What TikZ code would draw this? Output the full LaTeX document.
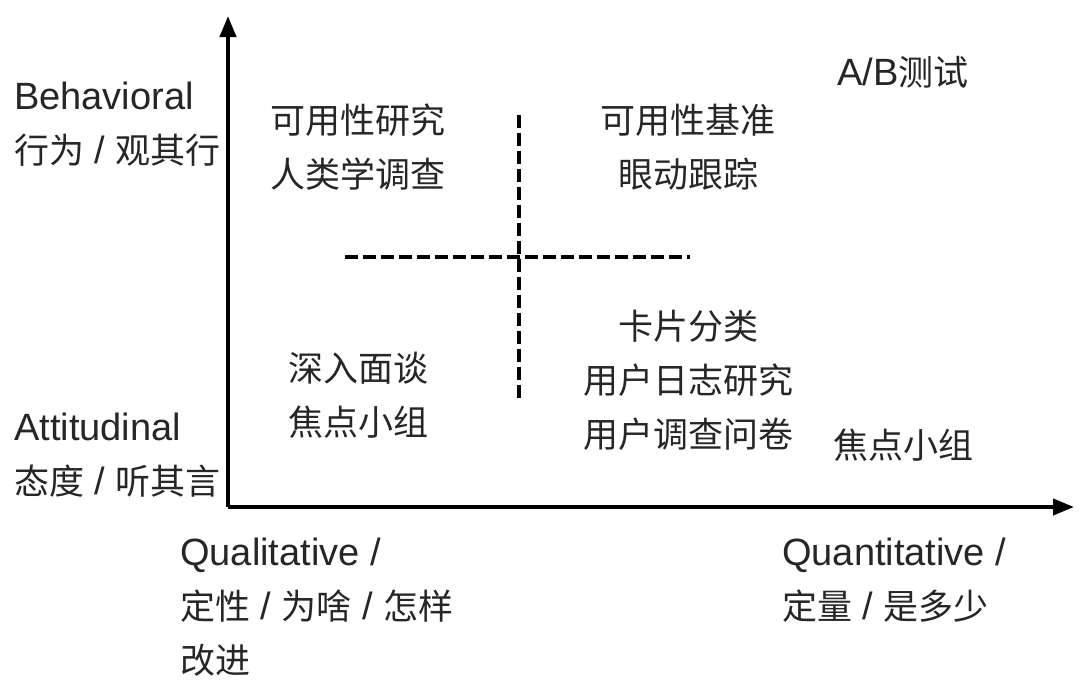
\documentclass[tikz,border=0pt]{standalone}
\usepackage{fontspec}
\setmainfont{Liberation Sans}
\newfontfamily\cjk{Noto Sans CJK SC}
\usetikzlibrary{arrows.meta}
\newcommand{\zh}[1]{{\cjk\fontsize{35}{54}\selectfont #1}}
\tikzstyle{label} = [inner sep=0pt, font=\fontsize{38}{54}\selectfont, text=black!85]
\tikzstyle{leftlabel} = [label, anchor=west, align=left]
\tikzstyle{midlabel} = [label, align=center]
\tikzstyle{axis} = [line width=4pt,-{Triangle[length=21pt,width=16pt]}]
\tikzstyle{split} = [line width=3.5pt, dash pattern=on 13pt off 5pt]

\begin{document}
\begin{tikzpicture}[x=1pt, y=-1pt]
    \useasboundingbox (0,0) rectangle (1090,691);
    \coordinate (origin) at (228,507);
    \coordinate (ytip) at (228,16);
    \coordinate (xtip) at (1074,507);
    \coordinate (vtop) at (519,115);
    \coordinate (vbot) at (519,398);
    \coordinate (hleft) at (345,257);
    \coordinate (hright) at (690,257);

    \node (behav) [leftlabel] at (14,124) {Behavioral \\ \zh{行为} / \zh{观其行}};
    \node (attit) [leftlabel] at (14,455) {Attitudinal \\ \zh{态度} / \zh{听其言}};
    \node (qual) [leftlabel] at (180,607) {Qualitative / \\ \zh{定性} / \zh{为啥} / \zh{怎样} \\ \zh{改进}};
    \node (quant) [leftlabel] at (782,580) {Quantitative / \\ \zh{定量} / \zh{是多少}};

    \node (usab) [midlabel] at (358,147) {\zh{可用性研究} \\ \zh{人类学调查}};
    \node (bench) [midlabel] at (688,147) {\zh{可用性基准} \\ \zh{眼动跟踪}};
    \node (ab) [midlabel] at (903,72) {A/B\zh{测试}};
    \node (card) [midlabel] at (688,380) {\zh{卡片分类} \\ \zh{用户日志研究} \\ \zh{用户调查问卷}};
    \node (deep) [midlabel] at (358,395) {\zh{深入面谈} \\ \zh{焦点小组}};
    \node (focus) [midlabel] at (903,445) {\zh{焦点小组}};

    \draw [axis] (origin) -- (ytip);
    \draw [axis] (origin) -- (xtip);
    \draw [split] (vtop) -- (vbot);
    \draw [split] (hleft) -- (hright);
\end{tikzpicture}
\end{document}
